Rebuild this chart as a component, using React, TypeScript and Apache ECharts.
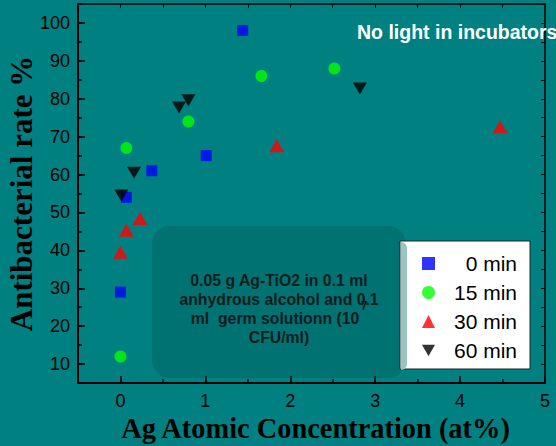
import React, { useEffect, useRef } from "react";
import * as echarts from "echarts";

// Ag atomic concentration (at%) and antibacterial rate (%) for each contact time
const x0min = [0, 0.07, 0.37, 1.01, 1.44];
const y0min = [29, 54, 61, 65, 98];

const x15min = [0, 0.07, 0.8, 1.66, 2.52];
const y15min = [12, 67, 74, 86, 88];

const x30min = [0, 0.07, 0.23, 1.84, 4.47];
const y30min = [39.5, 45.3, 48.4, 67.6, 72.6];

const x60min = [0.01, 0.16, 0.69, 0.8, 2.82];
const y60min = [54.5, 60.5, 77.7, 79.6, 82.7];

const seriesNames = ["0 min", "15 min", "30 min", "60 min"];
const xTicks = [0, 1, 2, 3, 4, 5];
const yTicks = [10, 20, 30, 40, 50, 60, 70, 80, 90, 100];

const noteLines = [
  "0.05 g Ag-TiO2 in 0.1 ml",
  "anhydrous alcohol and 0.1",
  "ml  germ solutionn (10",
  "CFU/ml)",
];

const SANS = "'Liberation Sans', Arial, Helvetica, sans-serif";
const SERIF = "'Liberation Serif', 'Times New Roman', serif";

const zip = (xs: number[], ys: number[]) => xs.map((x, i) => [x, ys[i]]);

export default function App() {
  const ref = useRef<HTMLDivElement>(null);

  useEffect(() => {
    if (!ref.current) return;
    const chart = echarts.init(ref.current, null, { renderer: "svg" });

    const grid = { left: 78, right: 11, top: 4, bottom: 63, containLabel: false, outerBoundsMode: "none" };
    const xRange = { min: -0.5, max: 5 };
    const yRange = { min: 5, max: 105 };

    const hiddenLabel = { show: false };
    const noSplit = { show: false };

    chart.setOption({
      animation: false,
      backgroundColor: "#008080",
      grid,
      xAxis: [
        {
          type: "value",
          position: "bottom",
          ...xRange,
          interval: 0.5,
          axisLine: { show: true, onZero: false, lineStyle: { color: "#000", width: 2 } },
          axisTick: { show: true, inside: true, length: 7, customValues: xTicks, lineStyle: { color: "#000", width: 1.5 } },
          axisLabel: {
            customValues: xTicks,
            formatter: (v: number) => (Number.isInteger(v) ? String(v) : ""),
            color: "#000",
            fontSize: 18,
            fontFamily: SANS,
            margin: 9,
          },
          splitLine: noSplit,
          name: "Ag Atomic Concentration (at%)",
          nameLocation: "middle",
          nameGap: 31,
          nameMoveOverlap: false,
          nameTextStyle: {
            color: "#000",
            fontSize: 28.4,
            fontWeight: "bold",
            fontFamily: SERIF,
            padding: [0, 0, 0, 8],
          },
        },
        {
          type: "value",
          position: "bottom",
          ...xRange,
          interval: 0.5,
          axisLine: { show: false, onZero: false },
          axisTick: { show: true, inside: true, length: 4, lineStyle: { color: "#000", width: 1.5 } },
          axisLabel: hiddenLabel,
          splitLine: noSplit,
        },
        {
          type: "value",
          position: "top",
          ...xRange,
          interval: 0.5,
          axisLine: { show: true, onZero: false, lineStyle: { color: "#000", width: 1.5 } },
          axisTick: { show: true, inside: true, length: 4, lineStyle: { color: "#000", width: 1 } },
          axisLabel: hiddenLabel,
          splitLine: noSplit,
        },
      ],
      yAxis: [
        {
          type: "value",
          position: "left",
          ...yRange,
          interval: 5,
          axisLine: { show: true, onZero: false, lineStyle: { color: "#000", width: 2 } },
          axisTick: { show: true, inside: true, length: 7, customValues: yTicks, lineStyle: { color: "#000", width: 1.5 } },
          axisLabel: {
            customValues: yTicks,
            formatter: (v: number) => (v % 10 === 0 ? String(v) : ""),
            color: "#000",
            fontSize: 18,
            fontFamily: SANS,
            margin: 8,
          },
          splitLine: noSplit,
          name: "Antibacterial rate %",
          nameLocation: "middle",
          nameGap: 41,
          nameMoveOverlap: false,
          nameTextStyle: { color: "#000", fontSize: 31, fontWeight: "bold", fontFamily: SERIF },
        },
        {
          type: "value",
          position: "left",
          ...yRange,
          interval: 5,
          axisLine: { show: false, onZero: false },
          axisTick: { show: true, inside: true, length: 4, lineStyle: { color: "#000", width: 1.5 } },
          axisLabel: hiddenLabel,
          splitLine: noSplit,
        },
        {
          type: "value",
          position: "right",
          ...yRange,
          interval: 5,
          axisLine: { show: true, onZero: false, lineStyle: { color: "#000", width: 1.5 } },
          axisTick: { show: true, inside: true, length: 4, lineStyle: { color: "#000", width: 1 } },
          axisLabel: hiddenLabel,
          splitLine: noSplit,
        },
      ],
      legend: {
        orient: "vertical",
        left: 400,
        top: 241,
        backgroundColor: "#fff",
        borderColor: "#222",
        borderWidth: 1,
        padding: [12, 13, 8, 22],
        itemWidth: 13,
        itemHeight: 13,
        itemGap: 8,
        data: seriesNames,
        formatter: "{t|{name}}",
        textStyle: {
          color: "#000",
          fontSize: 21,
          fontFamily: SANS,
          rich: { t: { width: 77, align: "right", fontSize: 21, lineHeight: 22, fontFamily: SANS, color: "#000" } },
        },
        z: 5,
      },
      graphic: [
        {
          type: "rect",
          z: 1,
          shape: { x: 152, y: 226, width: 254, height: 152, r: 18 },
          style: { fill: "rgba(0, 90, 90, 0.35)" },
        },
        {
          type: "rect",
          z: 100,
          shape: { x: 401, y: 242, width: 6, height: 128, r: [0, 6, 6, 0] },
          style: { fill: "#98c4c4" },
        },
        ...noteLines.map((line, i) => ({
          type: "text",
          z: 2,
          x: i === 2 ? 275 : 279,
          y: 280 + i * 19.3,
          style: {
            text: line,
            fill: "#0c1c1c",
            font: `bold 15.8px ${SANS}`,
            textAlign: "center",
            textVerticalAlign: "middle",
          },
        })),
        {
          type: "text",
          z: 3,
          x: 364,
          y: 306,
          style: {
            text: "7",
            fill: "#0c1c1c",
            font: `bold 12px ${SANS}`,
            textAlign: "center",
            textVerticalAlign: "middle",
          },
        },
        {
          type: "text",
          z: 3,
          x: 357,
          y: 32,
          style: {
            text: "No light in incubators",
            fill: "#fff",
            font: `bold 19.5px ${SANS}`,
            textAlign: "left",
            textVerticalAlign: "middle",
          },
        },
      ],
      series: [
        {
          name: seriesNames[0],
          type: "scatter",
          symbol: "rect",
          symbolSize: 11,
          itemStyle: { color: "#0000ff" },
          data: zip(x0min, y0min),
          z: 3,
        },
        {
          name: seriesNames[1],
          type: "scatter",
          symbol: "circle",
          symbolSize: 12,
          itemStyle: { color: "#00ff00" },
          data: zip(x15min, y15min),
          z: 3,
        },
        {
          name: seriesNames[2],
          type: "scatter",
          symbol: "triangle",
          symbolSize: [15, 13],
          itemStyle: { color: "#ff0000" },
          data: zip(x30min, y30min),
          z: 3,
        },
        {
          name: seriesNames[3],
          type: "scatter",
          symbol: "path://M0,0 L10,0 L5,9 Z",
          symbolSize: [14, 12],
          itemStyle: { color: "#000000" },
          data: zip(x60min, y60min),
          z: 3,
        },
      ],
    });

    return () => chart.dispose();
  }, []);

  return <div ref={ref} style={{ width: 556, height: 446, position: "fixed", left: 0, top: 0 }} />;
}
